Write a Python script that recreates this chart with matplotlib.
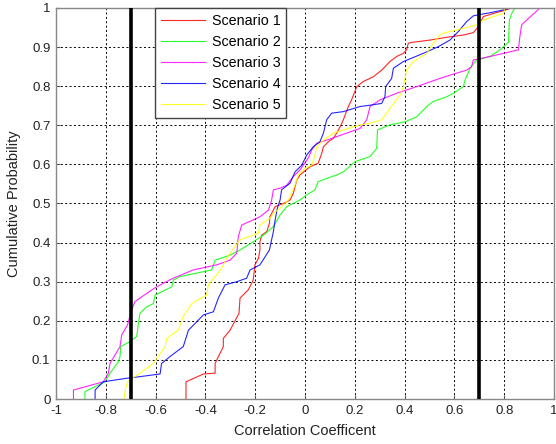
import matplotlib
matplotlib.use("Agg")
import matplotlib.pyplot as plt

plt.rcParams['font.family'] = ['Liberation Sans', 'DejaVu Sans']
plt.rcParams['axes.unicode_minus'] = False

scenario_names = ["Scenario 1", "Scenario 2", "Scenario 3", "Scenario 4", "Scenario 5"]
scenario_colors = ["#ff0000", "#00ff00", "#ff00ff", "#0000ff", "#ffff00"]

s1_points = [(-0.478, 0), (-0.478, 0.044), (-0.408, 0.064), (-0.361, 0.066), (-0.361, 0.091),
             (-0.328, 0.134), (-0.328, 0.155), (-0.301, 0.176), (-0.265, 0.219), (-0.261, 0.258),
             (-0.228, 0.279), (-0.208, 0.304), (-0.201, 0.343), (-0.187, 0.360), (-0.181, 0.381),
             (-0.181, 0.402), (-0.174, 0.419), (-0.154, 0.428), (-0.143, 0.449), (-0.141, 0.466),
             (-0.120, 0.492), (-0.087, 0.500), (-0.060, 0.509), (-0.047, 0.526), (-0.033, 0.560),
             (-0.020, 0.573), (0.020, 0.594), (0.053, 0.603), (0.067, 0.628), (0.074, 0.645),
             (0.094, 0.658), (0.114, 0.667), (0.127, 0.680), (0.141, 0.696), (0.154, 0.714),
             (0.161, 0.726), (0.174, 0.748), (0.187, 0.765), (0.208, 0.799), (0.234, 0.812),
             (0.274, 0.824), (0.308, 0.841), (0.341, 0.863), (0.368, 0.876), (0.395, 0.884),
             (0.408, 0.893), (0.415, 0.910), (0.428, 0.912), (0.502, 0.918), (0.569, 0.925),
             (0.636, 0.931), (0.676, 0.937), (0.696, 0.952), (0.716, 0.978), (0.756, 0.986),
             (0.797, 0.993), (0.830, 1.0)]

s2_points = [(-0.884, 0), (-0.884, 0.019), (-0.803, 0.044), (-0.783, 0.066), (-0.750, 0.095),
             (-0.743, 0.108), (-0.740, 0.134), (-0.703, 0.147), (-0.676, 0.160), (-0.669, 0.193),
             (-0.663, 0.219), (-0.636, 0.236), (-0.609, 0.244), (-0.602, 0.266), (-0.535, 0.287),
             (-0.529, 0.304), (-0.502, 0.313), (-0.375, 0.330), (-0.361, 0.355), (-0.301, 0.368),
             (-0.261, 0.381), (-0.208, 0.402), (-0.167, 0.419), (-0.127, 0.441), (-0.100, 0.471),
             (-0.073, 0.492), (-0.020, 0.509), (0.007, 0.522), (0.040, 0.535), (0.053, 0.556),
             (0.087, 0.564), (0.127, 0.573), (0.154, 0.581), (0.201, 0.607), (0.261, 0.620),
             (0.288, 0.641), (0.291, 0.688), (0.341, 0.701), (0.402, 0.709), (0.449, 0.722),
             (0.489, 0.748), (0.515, 0.761), (0.569, 0.773), (0.596, 0.782), (0.636, 0.799),
             (0.643, 0.816), (0.663, 0.846), (0.689, 0.867), (0.743, 0.876), (0.783, 0.893),
             (0.817, 0.912), (0.821, 0.969), (0.830, 0.986), (0.843, 1.0)]

s3_points = [(-0.930, 0), (-0.930, 0.023), (-0.810, 0.044), (-0.790, 0.066), (-0.783, 0.091),
             (-0.743, 0.134), (-0.736, 0.164), (-0.713, 0.189), (-0.696, 0.228), (-0.683, 0.249),
             (-0.636, 0.270), (-0.596, 0.287), (-0.529, 0.309), (-0.449, 0.330), (-0.355, 0.343),
             (-0.301, 0.355), (-0.274, 0.373), (-0.268, 0.415), (-0.254, 0.445), (-0.208, 0.458),
             (-0.181, 0.466), (-0.147, 0.483), (-0.134, 0.509), (-0.127, 0.535), (-0.100, 0.539),
             (-0.073, 0.547), (-0.047, 0.569), (-0.020, 0.586), (-0.007, 0.598), (0.013, 0.616),
             (0.027, 0.637), (0.047, 0.654), (0.087, 0.662), (0.127, 0.671), (0.167, 0.680),
             (0.221, 0.692), (0.248, 0.714), (0.261, 0.748), (0.301, 0.765), (0.368, 0.782),
             (0.449, 0.799), (0.542, 0.820), (0.596, 0.831), (0.649, 0.841), (0.669, 0.850),
             (0.676, 0.867), (0.743, 0.876), (0.797, 0.884), (0.857, 0.893), (0.863, 0.927),
             (0.870, 0.957), (0.904, 0.977), (0.944, 1.0)]

s4_points = [(-0.843, 0), (-0.843, 0.023), (-0.810, 0.044), (-0.716, 0.053), (-0.689, 0.055),
             (-0.582, 0.064), (-0.576, 0.091), (-0.535, 0.112), (-0.489, 0.134), (-0.468, 0.176),
             (-0.408, 0.215), (-0.368, 0.223), (-0.348, 0.258), (-0.321, 0.292), (-0.274, 0.300),
             (-0.234, 0.309), (-0.221, 0.330), (-0.181, 0.343), (-0.143, 0.381), (-0.127, 0.428),
             (-0.120, 0.458), (-0.111, 0.488), (-0.100, 0.509), (-0.094, 0.535), (-0.060, 0.552),
             (-0.040, 0.581), (-0.013, 0.598), (0.007, 0.624), (0.033, 0.645), (0.060, 0.658),
             (0.074, 0.680), (0.087, 0.714), (0.107, 0.731), (0.154, 0.735), (0.221, 0.748),
             (0.268, 0.752), (0.308, 0.756), (0.321, 0.773), (0.324, 0.799), (0.348, 0.820),
             (0.355, 0.846), (0.395, 0.863), (0.475, 0.884), (0.535, 0.901), (0.582, 0.918),
             (0.616, 0.940), (0.649, 0.965), (0.676, 0.980), (0.743, 0.988), (0.797, 0.995),
             (0.823, 1.0)]

s5_points = [(-0.727, 0), (-0.723, 0.019), (-0.713, 0.044), (-0.663, 0.066), (-0.609, 0.091),
             (-0.576, 0.121), (-0.562, 0.134), (-0.555, 0.155), (-0.509, 0.176), (-0.489, 0.211),
             (-0.455, 0.244), (-0.395, 0.266), (-0.388, 0.292), (-0.361, 0.313), (-0.335, 0.334),
             (-0.314, 0.360), (-0.288, 0.385), (-0.261, 0.407), (-0.187, 0.424), (-0.181, 0.445),
             (-0.141, 0.462), (-0.127, 0.475), (-0.100, 0.488), (-0.067, 0.509), (-0.040, 0.547),
             (-0.027, 0.573), (0.000, 0.590), (0.027, 0.598), (0.040, 0.624), (0.047, 0.645),
             (0.074, 0.662), (0.114, 0.680), (0.154, 0.688), (0.221, 0.701), (0.261, 0.705),
             (0.308, 0.714), (0.328, 0.731), (0.355, 0.756), (0.382, 0.777), (0.395, 0.799),
             (0.408, 0.841), (0.435, 0.863), (0.489, 0.884), (0.515, 0.910), (0.542, 0.931),
             (0.562, 0.937), (0.636, 0.948), (0.689, 0.957), (0.716, 0.969), (0.756, 0.978),
             (0.797, 0.986), (0.803, 1.0)]

threshold_lines = [-0.7, 0.7]
x_ticks = [-1, -0.8, -0.6, -0.4, -0.2, 0, 0.2, 0.4, 0.6, 0.8, 1]
x_tick_labels = ["-1", "-0.8", "-0.6", "-0.4", "-0.2", "0", "0.2", "0.4", "0.6", "0.8", "1"]
y_ticks = [0, 0.1, 0.2, 0.3, 0.4, 0.5, 0.6, 0.7, 0.8, 0.9, 1]
y_tick_labels = ["0", "0.1", "0.2", "0.3", "0.4", "0.5", "0.6", "0.7", "0.8", "0.9", "1"]

fig = plt.figure(figsize=(5.56, 4.44), dpi=100)
ax = fig.add_axes([56 / 556, 45 / 444, 498 / 556, 391 / 444])

all_points = [s1_points, s2_points, s3_points, s4_points, s5_points]
for pts, name, col in zip(all_points, scenario_names, scenario_colors):
    xs = [p[0] for p in pts]
    ys = [p[1] for p in pts]
    ax.plot(xs, ys, color=col, lw=0.8, label=name, alpha=0.85)

for xv in threshold_lines:
    ax.axvline(xv, color="black", lw=2.6, zorder=5)

ax.set_xlim(-1, 1)
ax.set_ylim(0, 1)
ax.set_xticks(x_ticks)
ax.set_xticklabels(x_tick_labels)
ax.set_yticks(y_ticks)
ax.set_yticklabels(y_tick_labels)
ax.grid(True, color="black", linestyle=(0, (2, 2.5)), linewidth=0.7)
ax.tick_params(direction="in", length=3, color="#555555", labelsize=9.5, labelcolor="#222222", pad=4)
for sp in ax.spines.values():
    sp.set_color("#888888")
    sp.set_linewidth(1.0)

ax.set_xlabel("Correlation Coefficent", fontsize=10.5, color="#222222", labelpad=5)
ax.set_ylabel("Cumulative Probability", fontsize=10.5, color="#222222", labelpad=8)

leg = ax.legend(loc="upper left", bbox_to_anchor=(0.199, 1.0), fontsize=10.3, frameon=True,
                fancybox=False, edgecolor="#444444", framealpha=1, handlelength=3.1,
                handletextpad=0.45, borderpad=0.4, labelspacing=0.5, borderaxespad=0)
leg.get_frame().set_linewidth(1.0)
leg.set_zorder(10)

fig.savefig("out.png", dpi=100)
